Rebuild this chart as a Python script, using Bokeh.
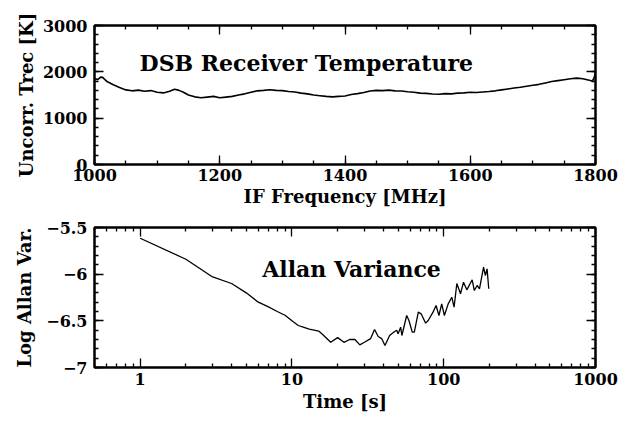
from bokeh.plotting import figure
from bokeh.models import (LinearAxis, LogAxis, FixedTicker, Label, Range1d)
from bokeh.layouts import column
from bokeh.embed import file_html
from bokeh.resources import INLINE

# ---------------- data ----------------
freq_mhz = [1000, 1005, 1010, 1013, 1020, 1030, 1040, 1050, 1060, 1070, 1080, 1090,
            1100, 1110, 1120, 1128, 1135, 1142, 1150, 1160, 1170, 1180, 1190, 1200,
            1210, 1220, 1230, 1240, 1250, 1260, 1270, 1280, 1290, 1300, 1310, 1320,
            1330, 1340, 1350, 1360, 1370, 1380, 1390, 1400, 1410, 1420, 1430, 1440,
            1450, 1460, 1470, 1480, 1490, 1500, 1510, 1520, 1530, 1540, 1550, 1560,
            1570, 1580, 1590, 1600, 1610, 1620, 1630, 1640, 1650, 1660, 1670, 1680,
            1690, 1700, 1710, 1720, 1730, 1740, 1750, 1760, 1770, 1780, 1790, 1795,
            1798, 1800]
trec_k = [1860, 1830, 1885, 1880, 1790, 1720, 1660, 1610, 1590, 1605, 1580, 1595,
          1560, 1545, 1580, 1625, 1600, 1560, 1500, 1460, 1440, 1455, 1470, 1440,
          1455, 1470, 1500, 1525, 1560, 1590, 1600, 1615, 1600, 1595, 1575, 1565,
          1540, 1525, 1500, 1485, 1470, 1460, 1470, 1480, 1510, 1530, 1555, 1585,
          1600, 1595, 1605, 1590, 1585, 1570, 1560, 1540, 1535, 1520, 1515, 1530,
          1525, 1540, 1545, 1560, 1555, 1565, 1575, 1590, 1610, 1630, 1650, 1667,
          1690, 1710, 1730, 1760, 1790, 1810, 1830, 1850, 1865, 1850, 1820, 1800,
          1880, 2000]

time_s = [1, 2, 3, 4, 5, 6, 7, 8, 9, 10, 11, 12, 13, 14, 15, 16, 18, 20, 22, 24,
          26, 28, 30, 33, 35, 37, 39, 41, 44, 47, 49, 50, 52, 53, 57, 59, 62, 64,
          68, 71, 76, 79, 85, 89, 93, 97, 101, 107, 113, 117, 122, 129, 135, 142,
          154, 159, 166, 172, 183, 188, 193, 198]
log_allan = [-5.615, -5.84, -6.03, -6.10, -6.20, -6.30, -6.35, -6.40, -6.44, -6.50,
             -6.55, -6.57, -6.59, -6.60, -6.61, -6.65, -6.73, -6.68, -6.73, -6.70,
             -6.70, -6.757, -6.73, -6.69, -6.593, -6.668, -6.69, -6.764, -6.657,
             -6.62, -6.60, -6.64, -6.568, -6.657, -6.443, -6.496, -6.62, -6.62,
             -6.407, -6.425, -6.525, -6.496, -6.407, -6.336, -6.443, -6.318, -6.443,
             -6.318, -6.247, -6.354, -6.10, -6.21, -6.086, -6.168, -6.06, -6.175,
             -6.121, -6.157, -5.925, -6.014, -5.943, -6.157]

top_x_ticks = [1000, 1200, 1400, 1600, 1800]
top_x_minor = [1000 + 50 * i for i in range(17)]
top_y_ticks = [0, 1000, 2000, 3000]
top_y_minor = [200 * i for i in range(16)]

bot_x_ticks = [1, 10, 100, 1000]
bot_x_minor = [m * d for d in (0.1, 1, 10, 100) for m in range(2, 10)]
bot_y_ticks = [-7, -6.5, -6, -5.5]
bot_y_minor = [round(-7 + 0.1 * i, 1) for i in range(16)]

top_title = "DSB Receiver Temperature"
bot_title = "Allan Variance"

FONT = "DejaVu Serif"
TICK_SIZE = "16px"
LABEL_SIZE = "18px"
TITLE_SIZE = "22px"


def style_axis(ax, ticks, minor, labels=True, overrides=None):
    ax.ticker = FixedTicker(ticks=ticks, minor_ticks=minor)
    ax.major_tick_in = 9
    ax.major_tick_out = 0
    ax.minor_tick_in = 4
    ax.minor_tick_out = 0
    ax.axis_line_width = 2
    ax.major_tick_line_width = 1.3
    ax.minor_tick_line_width = 1.3
    ax.major_label_text_font = FONT
    ax.major_label_text_font_style = "bold"
    ax.major_label_text_font_size = TICK_SIZE
    ax.major_label_text_color = "black"
    ax.axis_label_text_font = FONT
    ax.axis_label_text_font_style = "bold"
    ax.axis_label_text_font_size = LABEL_SIZE
    ax.axis_label_text_color = "black"
    ax.major_label_standoff = 5
    ax.axis_label_standoff = 3
    if overrides:
        ax.major_label_overrides = overrides
    if not labels:
        ax.major_label_text_alpha = 0
        ax.major_label_text_font_size = "0px"


# ---------------- top figure ----------------
p1 = figure(frame_width=501, frame_height=139, output_backend="svg",
            toolbar_location=None, x_range=Range1d(1000, 1800),
            y_range=Range1d(0, 3000), x_axis_type=None, y_axis_type=None,
            min_border_left=94, min_border_right=40, min_border_top=25,
            min_border_bottom=49)
p1.grid.visible = False
p1.outline_line_color = "black"
p1.outline_line_width = 2

xb = LinearAxis(axis_label="IF Frequency [MHz]")
style_axis(xb, top_x_ticks, top_x_minor)
xb.major_label_standoff = 4
xb.axis_label_standoff = 2
p1.add_layout(xb, "below")
xa = LinearAxis()
style_axis(xa, top_x_ticks, top_x_minor, labels=False)
p1.add_layout(xa, "above")
yl = LinearAxis(axis_label="Uncorr. Trec [K]")
style_axis(yl, top_y_ticks, top_y_minor)
yl.major_label_standoff = 7
p1.add_layout(yl, "left")
yr = LinearAxis()
style_axis(yr, top_y_ticks, top_y_minor, labels=False)
p1.add_layout(yr, "right")

p1.line(freq_mhz, trec_k, line_color="black", line_width=1.6)
p1.add_layout(Label(x=1072, y=2196, text=top_title, text_font=FONT,
                    text_font_size=TITLE_SIZE, text_font_style="bold",
                    text_color="black", text_baseline="alphabetic"))

# ---------------- bottom figure ----------------
p2 = figure(frame_width=501, frame_height=140, output_backend="svg",
            toolbar_location=None, x_range=Range1d(0.5, 1000),
            y_range=Range1d(-7, -5.5), x_axis_type="log", y_axis_type="linear",
            min_border_left=94, min_border_right=40, min_border_top=14,
            min_border_bottom=46)
p2.below = []
p2.left = []
p2.grid.visible = False
p2.outline_line_color = "black"
p2.outline_line_width = 2

log_over = {1: "1", 10: "10", 100: "100", 1000: "1000"}
y_over = {-7: "\u22127", -6.5: "\u22126.5", -6: "\u22126", -5.5: "\u22125.5"}

xb2 = LogAxis(axis_label="Time [s]")
style_axis(xb2, bot_x_ticks, bot_x_minor, overrides=log_over)
p2.add_layout(xb2, "below")
xa2 = LogAxis()
style_axis(xa2, bot_x_ticks, bot_x_minor, labels=False)
p2.add_layout(xa2, "above")
yl2 = LinearAxis(axis_label="Log Allan Var.")
style_axis(yl2, bot_y_ticks, bot_y_minor, overrides=y_over)
yl2.major_label_standoff = 7
yl2.axis_label_standoff = 8
p2.add_layout(yl2, "left")
yr2 = LinearAxis()
style_axis(yr2, bot_y_ticks, bot_y_minor, labels=False)
p2.add_layout(yr2, "right")

p2.line(time_s, log_allan, line_color="black", line_width=1.3)
p2.add_layout(Label(x=6.37, y=-5.94, text=bot_title, text_font=FONT,
                    text_font_size=TITLE_SIZE, text_font_style="bold",
                    text_color="black", text_baseline="alphabetic"))

layout = column(p1, p2, spacing=0)
open("out.html", "w").write(file_html(layout, INLINE))
